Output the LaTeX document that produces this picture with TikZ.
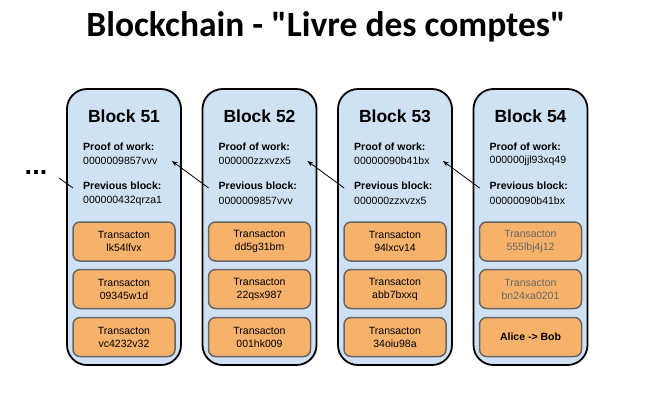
\documentclass[tikz,border=0pt]{standalone}
\usepackage{fontspec}
\setmainfont{Liberation Sans}
\newfontfamily\titlefont{Carlito}
\usetikzlibrary{calc,arrows.meta}
\definecolor{blockfill}{HTML}{CFE2F3}
\definecolor{txfill}{HTML}{F6B26B}
\definecolor{txborder}{HTML}{666666}
\definecolor{graytext}{HTML}{666666}
\begin{document}
\begin{tikzpicture}[x=1pt,y=-1pt,
  blockbox/.style={draw=black,line width=1.8pt,fill=blockfill,rounded corners=20pt,minimum width=114pt,minimum height=276pt,inner sep=0pt},
  txbox/.style={draw=txborder,line width=1.5pt,fill=txfill,rounded corners=7pt,minimum width=102pt,minimum height=39pt,inner sep=0pt,align=center,font=\fontsize{10.5}{13}\selectfont},
  blocktitle/.style={font=\fontsize{17.5}{20}\selectfont\bfseries,inner sep=0pt},
  lbl/.style={font=\fontsize{10.5}{12}\selectfont\bfseries,anchor=west,inner sep=0pt},
  val/.style={font=\fontsize{10.5}{12}\selectfont,anchor=west,inner sep=0pt},
  link/.style={draw=black,line width=0.8pt,-{Stealth[length=6pt,width=4.5pt]}}
]
\useasboundingbox (0,0) rectangle (650,400);
\node[font=\titlefont\fontsize{35.5}{40}\selectfont\bfseries,inner sep=0pt] (title) at (326,27) {Blockchain - "Livre des comptes"};

\foreach \n/\L/\pw/\pb in {51/67/0000009857vvv/000000432qrza1,
                           52/202.5/000000zzxvzx5/0000009857vvv,
                           53/338/00000090b41bx/000000zzxvzx5,
                           54/473.5/000000jjl93xq49/00000090b41bx}{
  \node[blockbox] (b\n) at ({\L+57},227) {};
  \node[blocktitle] (t\n) at ({\L+57},116) {Block \n};
  \node[lbl] (pw\n) at ({\L+16},147) {Proof of work:};
  \node[val] (pv\n) at ({\L+16},161) {\pw};
  \node[lbl] (pl\n) at ({\L+16},186) {Previous block:};
  \node[val] (pp\n) at ({\L+16},201) {\pb};
}

\node[txbox] (x51a) at (124,241.5) {Transacton\\lk54lfvx};
\node[txbox] (x51b) at (124,289) {Transacton\\09345w1d};
\node[txbox] (x51c) at (124,337) {Transacton\\vc4232v32};
\node[txbox] (x52a) at (259.5,241.5) {Transacton\\dd5g31bm};
\node[txbox] (x52b) at (259.5,289) {Transacton\\22qsx987};
\node[txbox] (x52c) at (259.5,337) {Transacton\\001hk009};
\node[txbox] (x53a) at (395,241.5) {Transacton\\94lxcv14};
\node[txbox] (x53b) at (395,289) {Transacton\\abb7bxxq};
\node[txbox] (x53c) at (395,337) {Transacton\\34oiu98a};
\node[txbox,text=graytext] (x54a) at (530.5,241.5) {Transacton\\555lbj4j12};
\node[txbox,text=graytext] (x54b) at (530.5,289) {Transacton\\bn24xa0201};
\node[txbox,font=\fontsize{10.5}{13}\selectfont\bfseries] (x54c) at (530.5,337) {Alice -> Bob};

\node[font=\fontsize{27}{30}\selectfont\bfseries,inner sep=0pt] (dots) at (36,172) {...};

\coordinate (dend) at (73,188);
\draw[draw=black,line width=0.8pt] (59,178) -- (dend);
\foreach \a/\b in {51/52,52/53,53/54}{
  \draw[link] ($(b\b.west |- pl\b)+(7,2)$) -- ($(b\a.east |- pv\a)+(-10,0)$);
}
\end{tikzpicture}
\end{document}
